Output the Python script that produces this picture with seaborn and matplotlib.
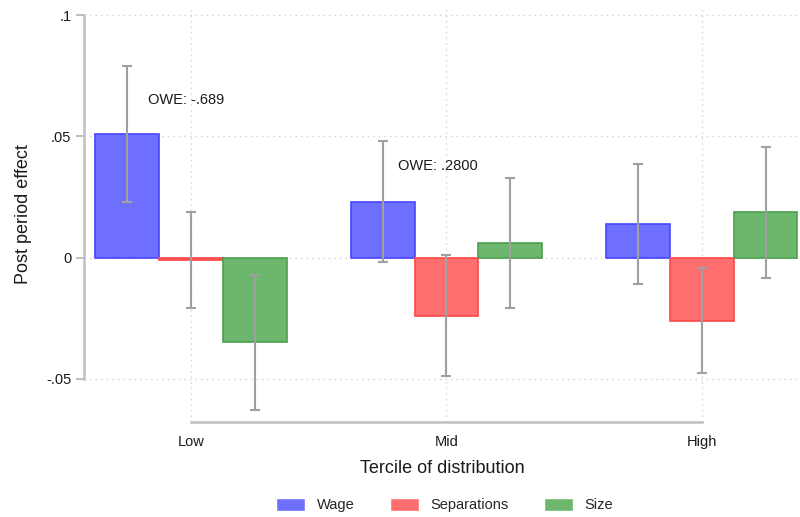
import numpy as np
import pandas as pd
import matplotlib
matplotlib.use("Agg")
import matplotlib.pyplot as plt
import seaborn as sns

# data
terciles = ["Low", "Mid", "High"]
outcomes = ["Wage", "Separations", "Size"]
wage = [0.051, 0.023, 0.014]
separations = [-0.0012, -0.024, -0.026]
size = [-0.035, 0.006, 0.0187]
wage_ci = [0.028, 0.025, 0.0248]
sep_ci = [0.0198, 0.025, 0.0218]
size_ci = [0.0277, 0.0268, 0.027]
owe_labels = ["OWE: -.689", "OWE: .2800"]
owe_pos = [(-0.17, 0.065), (0.81, 0.0376)]

colors = {"Wage": "#6e6eff", "Separations": "#ff6e6e", "Size": "#6db66d"}
edges = {"Wage": "#4646ff", "Separations": "#ff4646", "Size": "#4ca04c"}

df = pd.DataFrame({
    "tercile": terciles * 3,
    "outcome": sum([[o] * 3 for o in outcomes], []),
    "effect": wage + separations + size,
    "ci": wage_ci + sep_ci + size_ci,
})

sns.set_style("white")
plt.rcParams["font.family"] = ["Liberation Sans", "DejaVu Sans"]

fig = plt.figure(figsize=(8, 5.17), dpi=100)
ax = fig.add_axes([0.105, 0.184, 0.895, 0.802])

sns.barplot(data=df, x="tercile", y="effect", hue="outcome", order=terciles,
            hue_order=outcomes, palette=colors, saturation=1, width=0.75,
            errorbar=None, ax=ax, zorder=3)

# edges + error bars
for cont, o in zip(ax.containers, outcomes):
    sub = df[df["outcome"] == o].set_index("tercile").loc[terciles]
    xs = []
    for p in cont:
        p.set_edgecolor(edges[o])
        p.set_linewidth(1.2)
        xs.append(p.get_x() + p.get_width() / 2)
    ax.errorbar(xs, sub["effect"], yerr=sub["ci"], fmt="none",
                ecolor="#a0a0a0", elinewidth=1.5, capsize=3.5,
                capthick=1.5, zorder=4)

for txt, (x, y) in zip(owe_labels, owe_pos):
    ax.text(x, y, txt, fontsize=10.5, color="#1a1a1a", va="center", ha="left", zorder=5)

ax.set_xlim(-0.42, 2.385)
ax.set_ylim(-0.0678, 0.1033)
ax.set_yticks([-0.05, 0, 0.05, 0.1])
ax.set_yticklabels(["-.05", "0", ".05", ".1"])
ax.grid(True, axis="both", linestyle=(0, (1, 3)), color="#d0d0d0", linewidth=1, zorder=0)
ax.set_axisbelow(True)

for s in ["top", "right"]:
    ax.spines[s].set_visible(False)
ax.spines["left"].set_bounds(-0.05, 0.1)
ax.spines["bottom"].set_bounds(0, 2)
ax.spines["left"].set_color("#c0c0c0")
ax.spines["bottom"].set_color("#c0c0c0")
ax.spines["left"].set_linewidth(1.8)
ax.spines["bottom"].set_linewidth(1.8)
ax.tick_params(axis="y", left=True, length=6, width=1.5, color="#c0c0c0",
               labelsize=10.5, labelcolor="#1a1a1a", pad=3)
ax.tick_params(axis="x", bottom=False, labelsize=10.5, labelcolor="#1a1a1a", pad=6)

ax.set_xlabel("Tercile of distribution", fontsize=13, color="#1a1a1a", labelpad=8)
ax.set_ylabel("Post period effect", fontsize=13, color="#1a1a1a", labelpad=10)

sns.move_legend(ax, "center", bbox_to_anchor=(0.556, 0.023),
                bbox_transform=fig.transFigure, ncol=3, frameon=False,
                title=None, fontsize=10.5, handlelength=2.0, handleheight=1.0,
                columnspacing=2.4, handletextpad=0.8)

fig.savefig("out.png", dpi=100)
